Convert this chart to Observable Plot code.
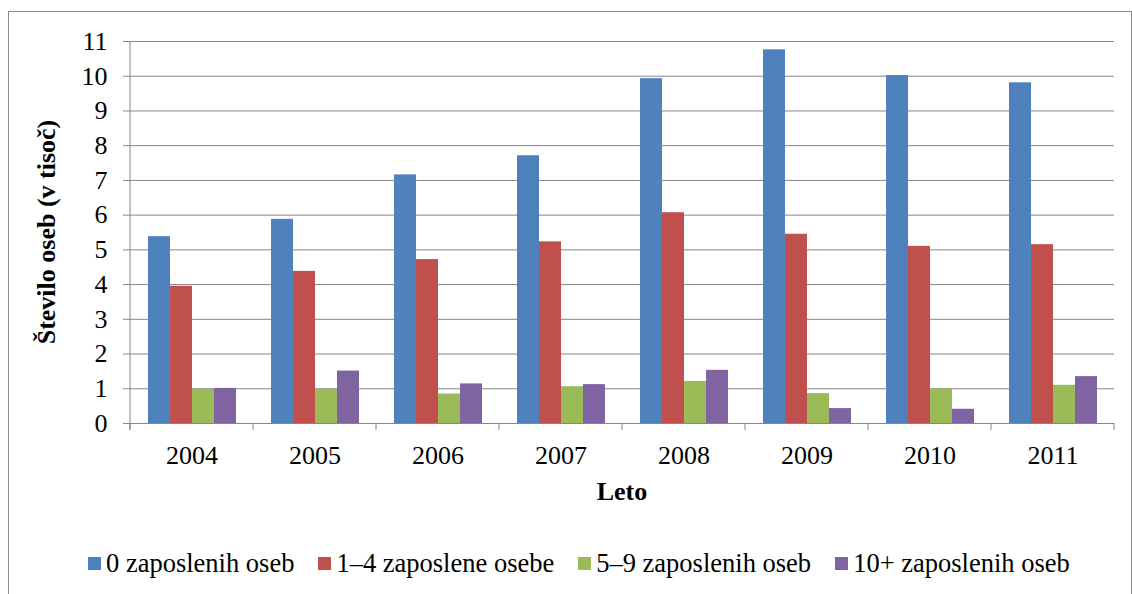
<!DOCTYPE html>
<html><head><meta charset="utf-8">
<script src="https://cdn.jsdelivr.net/npm/d3@7"></script>
<script src="https://cdn.jsdelivr.net/npm/@observablehq/plot@0.6"></script>
<style>
body{margin:0;background:#fff;width:1132px;height:594px;overflow:hidden;position:relative;font-family:"Liberation Serif","Times New Roman",Tinos,"DejaVu Serif",serif;}
#frame{position:absolute;left:8px;top:11px;width:1124px;height:640px;border:1px solid #8c8c8c;box-sizing:border-box;}
#chart{position:absolute;left:0;top:0;}
#legend{position:absolute;left:88px;top:548px;display:flex;align-items:center;font-size:26.5px;line-height:30px;color:#000;white-space:nowrap;}
.item{display:flex;align-items:center;margin-right:24px;}
.sw{width:13px;height:13px;margin-right:5px;}
#chart svg text{font-family:"Liberation Serif","Times New Roman",Tinos,"DejaVu Serif",serif;}
</style></head><body>
<div id="frame"></div><div id="chart"></div><div id="legend"></div>
<script>
const years = ["2004","2005","2006","2007","2008","2009","2010","2011"];
const series = ["0 zaposlenih oseb","1–4 zaposlene osebe","5–9 zaposlenih oseb","10+ zaposlenih oseb"];
const colors = ["#4F81BD","#C0504D","#9BBB59","#8064A2"];
const s0 = [5.38,5.88,7.16,7.71,9.93,10.76,10.02,9.81];
const s1 = [3.95,4.38,4.72,5.23,6.07,5.45,5.10,5.15];
const s2 = [0.98,0.98,0.85,1.06,1.21,0.86,1.00,1.10];
const s3 = [1.01,1.51,1.14,1.12,1.53,0.43,0.41,1.35];
const yTicks = [0,1,2,3,4,5,6,7,8,9,10,11];
const yTitle = "Število oseb (v tisoč)";
const xTitle = "Leto";

const allSeries = [s0,s1,s2,s3];
const data = years.flatMap((yr,i)=>series.map((s,j)=>({year:yr, series:s, value:allSeries[j][i]})));

const gray = "#868686";
const font = "'Liberation Serif','Times New Roman',Tinos,'DejaVu Serif',serif";
const plot = Plot.plot({
  width:1132, height:594,
  marginLeft:130, marginRight:18, marginTop:41, marginBottom:171,
  style:{fontFamily:font, fontSize:"26px", color:"#000", background:"transparent", overflow:"visible"},
  fx:{domain:years, padding:0, label:null},
  x:{domain:series, paddingInner:0, paddingOuter:0.795, axis:null},
  y:{domain:[0,11], label:null},
  color:{domain:series, range:colors},
  marks:[
    Plot.ruleY(yTicks, {stroke:gray, strokeWidth:1}),
    Plot.barY(data, {fx:"year", x:"series", y:"value", fill:"series", inset:0}),
    Plot.axisY(yTicks, {tickSize:7, tickPadding:16, stroke:gray, fill:"#000", label:null}),
    Plot.axisFx({anchor:"bottom", tickSize:0, tickPadding:22, fill:"#000", label:null})
  ]
});
document.getElementById("chart").appendChild(plot);

// axis line and category boundary ticks, positioned through the plot's scales
const fx = plot.scale("fx"), y = plot.scale("y");
const svg = d3.select(plot);
const g = svg.append("g").attr("stroke", gray).attr("stroke-width", 1);
const y0 = y.apply(0), yTop = y.apply(11);
const bounds = years.map(yr=>fx.apply(yr)).concat([fx.apply(years[years.length-1]) + fx.bandwidth]);
const left = bounds[0], right = bounds[bounds.length-1];
g.append("line").attr("x1",left).attr("x2",left).attr("y1",yTop).attr("y2",y0+7);
bounds.forEach(b=>g.append("line").attr("x1",b).attr("x2",b).attr("y1",y0).attr("y2",y0+7));

svg.append("text").attr("transform",`translate(55,${(y0+yTop)/2}) rotate(-90)`)
  .attr("text-anchor","middle").attr("font-weight","bold").attr("font-size",26)
  .attr("font-family",font).text(yTitle);
svg.append("text").attr("x",(left+right)/2).attr("y",y0+77)
  .attr("text-anchor","middle").attr("font-weight","bold").attr("font-size",26)
  .attr("font-family",font).text(xTitle);

const legend = d3.select("#legend");
series.forEach((s,i)=>{
  const it = legend.append("div").attr("class","item");
  it.append("div").attr("class","sw").style("background",colors[i]);
  it.append("span").text(s);
});
</script>
</body></html>
